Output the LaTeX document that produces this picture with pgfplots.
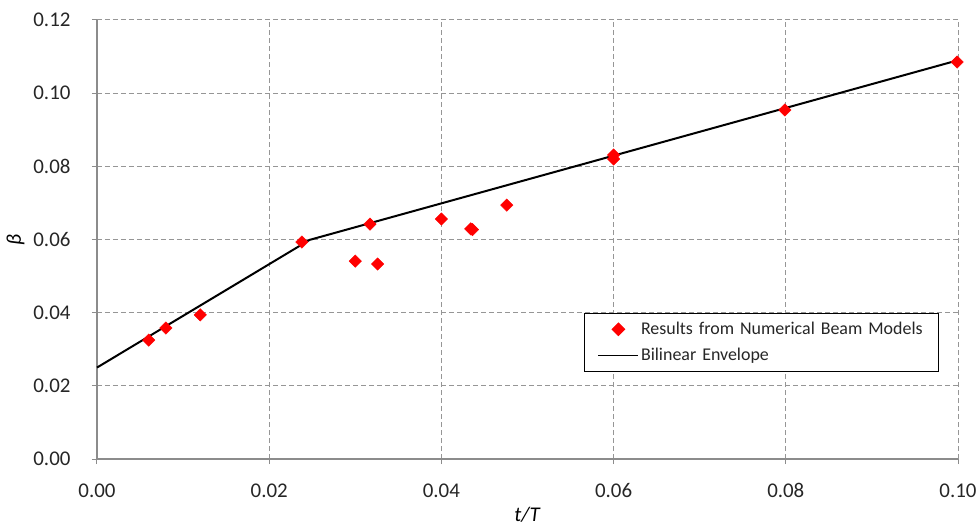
\documentclass[border=0pt]{standalone}
\usepackage{fontspec}
\setmainfont{Carlito}
\usepackage{pgfplots}
\pgfplotsset{compat=1.18}
\definecolor{gridgray}{RGB}{150,150,150}
\definecolor{axgray}{RGB}{140,140,140}
\pgfplotsset{
  legmark/.style={legend image code/.code={\path (0bp,0bp) (40bp,0bp); \draw[##1] plot coordinates {(20bp,0bp)};}},
  legline/.style={legend image code/.code={\draw[##1, line width=1.2bp] (0bp,0bp) -- (40bp,0bp);}},
}
\begin{document}
\begin{tikzpicture}
\useasboundingbox (-97bp,-70bp) rectangle (882bp,459bp);
\begin{axis}[
  at={(0,0)}, anchor=south west,
  scale only axis, width=861bp, height=439bp,
  xmin=0, xmax=0.10, ymin=0, ymax=0.12,
  xtick={0,0.02,...,0.10}, ytick={0,0.02,...,0.12},
  xticklabel style={/pgf/number format/.cd, fixed, fixed zerofill, precision=2, /tikz/.cd, yshift=-16bp},
  yticklabel style={/pgf/number format/.cd, fixed, fixed zerofill, precision=2, /tikz/.cd, xshift=-18bp},
  /pgf/number format/assume math mode=true,
  scaled ticks=false,
  tick label style={font=\fontsize{21}{23}\selectfont, text=black!85},
  axis x line*=bottom, axis y line*=left,
  axis line style={axgray, line width=1.2bp, -},
  tick style={axgray, line width=1bp},
  tick align=outside, major tick length=5bp,
  grid=major,
  major grid style={gridgray, line width=1bp, dash pattern=on 5bp off 3bp},
  xlabel={\textit{t/T}}, ylabel={\textit{β}},
  xlabel style={font=\fontsize{21}{22}\selectfont, yshift=-2bp},
  ylabel style={font=\fontsize{21}{22}\selectfont, yshift=2bp},
  legend style={at={(0.566,0.333)}, anchor=north west, draw=black, line width=1bp,
    font=\fontsize{18}{20}\selectfont, text=black!85, inner xsep=13bp, inner ysep=7bp,
    text width=282bp, row sep=8bp},
  legend cell align=left,
  clip=false,
]
\addplot[only marks, mark=square*, mark size=4.4bp, color=red, mark options={fill=red, draw=red, rotate=45}, legmark]
coordinates {
(0.006,0.0325) (0.008,0.0358) (0.012,0.0394) (0.0238,0.0593)
(0.030,0.0541) (0.0326,0.0533) (0.0317,0.0642) (0.040,0.0656)
(0.0434,0.0629) (0.0436,0.0627) (0.0476,0.0694) (0.060,0.0831) (0.060,0.0820)
(0.0799,0.0954) (0.0999,0.1085)
};
\addlegendentry{Results from Numerical Beam Models}
\addplot[black, line width=2bp, mark=none, legline]
coordinates {
(0,0.025) (0.0247,0.0599) (0.10,0.109)
};
\addlegendentry{Bilinear Envelope}
\end{axis}
\end{tikzpicture}
\end{document}
